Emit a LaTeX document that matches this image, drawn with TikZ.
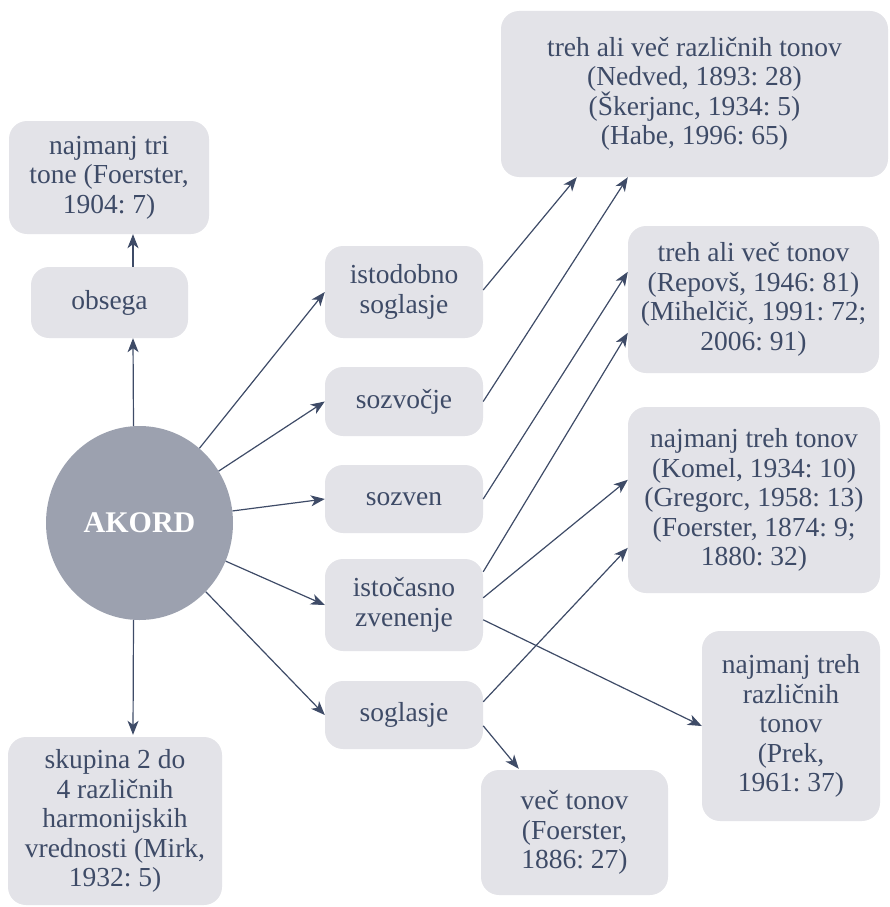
\documentclass[tikz,border=0pt]{standalone}
\usepackage{fontspec}
\setmainfont{Liberation Serif}
\usetikzlibrary{arrows.meta,shapes.geometric}
\definecolor{ink}{HTML}{3E4B67}
\definecolor{boxfill}{HTML}{E3E3E8}
\definecolor{circfill}{HTML}{9CA1AF}
\frenchspacing
\begin{document}
\begin{tikzpicture}[x=1pt,y=-1pt,
  box/.style={fill=boxfill, rounded corners=18pt, text=ink, align=center, inner sep=0pt,
    font=\fontsize{27.5}{29.5}\selectfont},
  arr/.style={draw=ink, line width=1.2pt, -{Stealth[length=14pt,width=11pt,inset=4pt]}},
  ]
\useasboundingbox (0,0) rectangle (890,907);
% central node
\node[ellipse, fill=circfill, minimum width=187pt, minimum height=194pt, inner sep=0pt,
  text=white, font=\fontsize{30}{36}\selectfont\bfseries] (akord) at (139.5,523) {AKORD};
% left column
\node[box, minimum width=200pt, minimum height=113pt] (tri) at (109,177.5) {najmanj tri\\tone (Foerster,\\1904: 7)};
\node[box, minimum width=157pt, minimum height=71pt] (obsega) at (109.5,302.5) {obsega};
\node[box, minimum width=214pt, minimum height=168pt] (skupina) at (115,821) {skupina 2 do\\4 različnih\\harmonijskih\\vrednosti (Mirk,\\1932: 5)};
% middle column
\node[box, minimum width=158pt, minimum height=92pt] (istodobno) at (404,292) {istodobno\\soglasje};
\node[box, minimum width=158pt, minimum height=69pt] (sozvocje) at (404,401.5) {sozvočje};
\node[box, minimum width=158pt, minimum height=68pt] (sozven) at (404,499) {sozven};
\node[box, minimum width=158pt, minimum height=92pt] (istocasno) at (404,605) {istočasno\\zvenenje};
\node[box, minimum width=158pt, minimum height=68pt] (soglasje) at (404,715) {soglasje};
% right column
\node[box, minimum width=387pt, minimum height=166pt] (razl) at (694.5,94) {treh ali več različnih tonov\\(Nedved, 1893: 28)\\(Škerjanc, 1934: 5)\\(Habe, 1996: 65)};
\node[box, minimum width=251pt, minimum height=147pt] (tonov) at (753.5,299.5) {treh ali več tonov\\(Repovš, 1946: 81)\\(Mihelčič, 1991: 72;\\2006: 91)};
\node[box, minimum width=252pt, minimum height=186pt] (ntt) at (754,500) {najmanj treh tonov\\(Komel, 1934: 10)\\(Gregorc, 1958: 13)\\(Foerster, 1874: 9;\\1880: 32)};
\node[box, minimum width=178pt, minimum height=190pt] (ntrt) at (791,726) {najmanj treh\\različnih\\tonov\\(Prek,\\1961: 37)};
\node[box, minimum width=187pt, minimum height=125pt] (vec) at (574.5,832.5) {več tonov\\(Foerster,\\1886: 27)};
% connectors
\draw[arr] ([xshift=-6pt]akord.north) -- ([xshift=23.5pt]obsega.south);
\draw[arr] ([xshift=23.5pt]obsega.north) -- ([xshift=24pt]tri.south);
\draw[arr] ([xshift=-6pt]akord.south) -- ([xshift=18pt,yshift=2pt]skupina.north);
\draw[arr] (akord) -- (istodobno.west);
\draw[arr] (akord) -- (sozvocje.west);
\draw[arr] (akord) -- (sozven.west);
\draw[arr] (akord) -- (istocasno.west);
\draw[arr] (akord) -- (soglasje.west);
\draw[arr] ([yshift=2pt]istodobno.east) -- ([xshift=76pt]razl.south west);
\draw[arr] (sozvocje.east) -- ([xshift=127pt]razl.south west);
\draw[arr] (sozven.east) -- ([yshift=-46pt]tonov.north west);
\draw[arr] ([yshift=-13pt]istocasno.north east) -- ([yshift=-107pt]tonov.north west);
\draw[arr] ([yshift=-39pt]istocasno.north east) -- ([yshift=-73pt]ntt.north west);
\draw[arr] ([yshift=-61pt]istocasno.north east) -- (ntrt.west);
\draw[arr] ([yshift=-21pt]soglasje.north east) -- ([yshift=-141pt]ntt.north west);
\draw[arr] ([yshift=-45pt]soglasje.north east) -- ([xshift=38pt,yshift=1pt]vec.north west);
\end{tikzpicture}
\end{document}
